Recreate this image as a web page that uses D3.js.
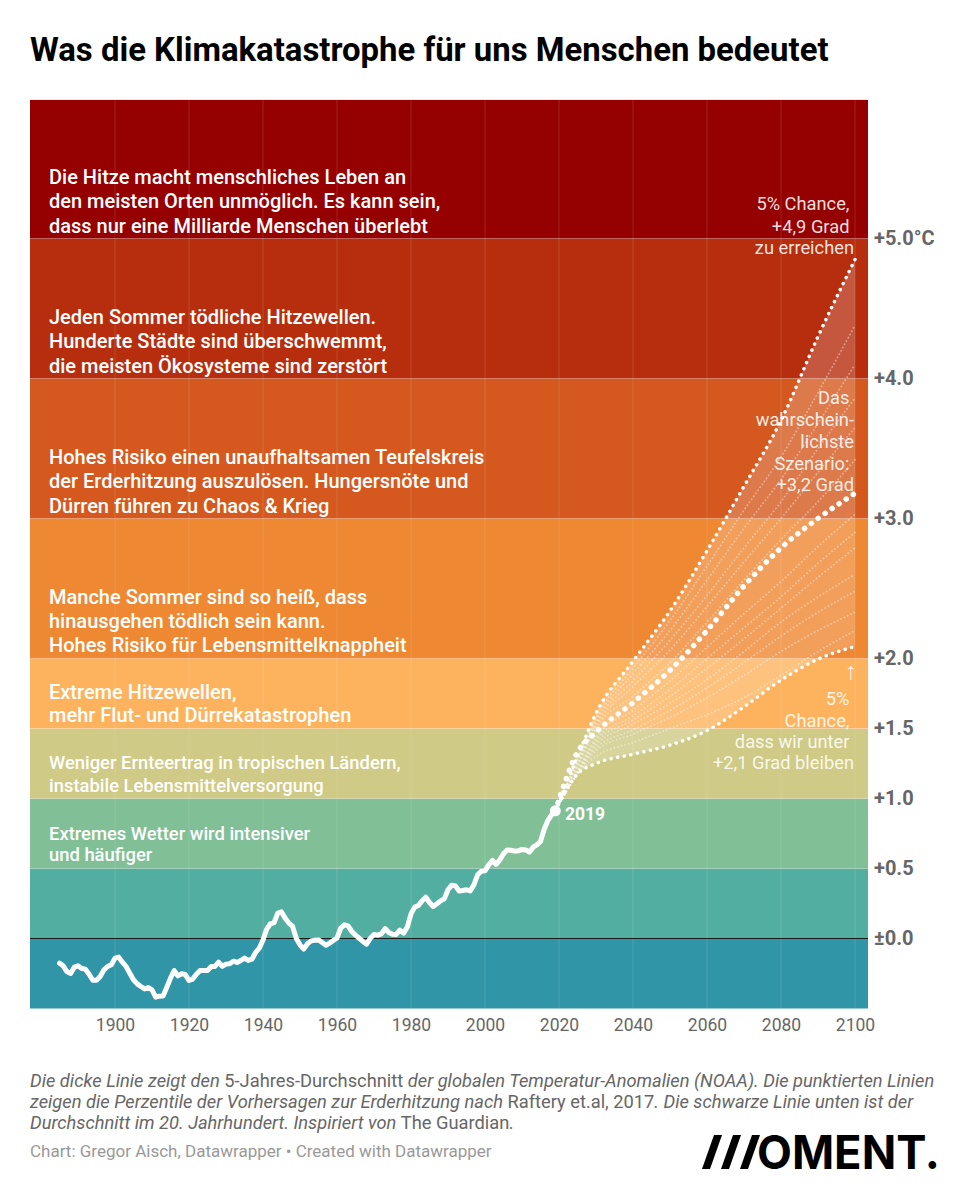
<!DOCTYPE html>
<meta charset="utf-8">
<title>Was die Klimakatastrophe für uns Menschen bedeutet</title>
<style>

    body {
        margin: 0;
        background: #fff;
        font-family: Roboto, sans-serif;
    }

    .band-text {
        fill: #fff;
        font-weight: 500;
    }

    .note {
        fill: #fff;
        fill-opacity: .88;
        font-size: 18.3px;
        text-anchor: end;
    }

</style>
<body>
<script src="https://cdn.jsdelivr.net/npm/d3@7"></script>
<script>

    var bandEdges = [-0.5, 0, 0.5, 1, 1.5, 2, 3, 4, 5, 5.99];
    var bandColors = ["#3096a7", "#52aea0", "#81bf97", "#cfca85", "#fdb35e", "#ee8832", "#d5591e", "#b72e0e", "#950000"];

    var xTicks = [1900, 1920, 1940, 1960, 1980, 2000, 2020, 2040, 2060, 2080, 2100];
    var yTicks = [0, 0.5, 1, 1.5, 2, 3, 4, 5];
    var yTickLabels = ["±0.0", "+0.5", "+1.0", "+1.5", "+2.0", "+3.0", "+4.0", "+5.0°C"];

    var firstYear = 1885;
    var anomaly = [-.176, -.195, -.236, -.25, -.205, -.195, -.214, -.219, -.255, -.298,
        -.298, -.271, -.224, -.2, -.188, -.14, -.133, -.169, -.2, -.248,
        -.295, -.324, -.343, -.36, -.35, -.367, -.419, -.412, -.41, -.348,
        -.283, -.229, -.267, -.252, -.257, -.3, -.29, -.255, -.229, -.229,
        -.229, -.2, -.2, -.169, -.198, -.183, -.181, -.162, -.171, -.157,
        -.14, -.157, -.148, -.1, -.069, -.01, .067, .105, .114, .181,
        .19, .145, .11, .086, 0, -.045, -.076, -.038, -.017, -.012,
        -.01, -.029, -.048, -.033, -.014, .002, .074, .098, .09, .05,
        .024, .002, -.021, -.04, .002, .029, .024, .033, .071, .043,
        .031, .029, .06, .038, .081, .176, .224, .236, .269, .295,
        .257, .229, .248, .269, .283, .348, .381, .376, .34, .343,
        .348, .34, .383, .455, .481, .483, .526, .557, .529, .562,
        .605, .633, .631, .624, .626, .636, .633, .617, .652, .669,
        .693, .78, .843, .883, .912];

    var projYears = [2019, 2025, 2030, 2040, 2050, 2060, 2070, 2080, 2090, 2100];
    var p95 = [.912, 1.3, 1.61, 1.98, 2.34, 2.77, 3.23, 3.7, 4.3, 4.85];
    var p50 = [.912, 1.33, 1.475, 1.685, 1.916, 2.2, 2.518, 2.79, 3.0, 3.18];
    var p5 = [.912, 1.175, 1.25, 1.316, 1.382, 1.485, 1.655, 1.846, 1.995, 2.085];

    var p90 = [.912, 1.28, 1.58, 1.93, 2.27, 2.66, 3.06, 3.44, 3.9, 4.38];
    var p85 = [.912, 1.27, 1.56, 1.89, 2.2, 2.56, 2.93, 3.28, 3.68, 4.1];
    var p80 = [.912, 1.25, 1.54, 1.84, 2.13, 2.45, 2.79, 3.12, 3.5, 3.86];
    var p75 = [.912, 1.24, 1.52, 1.8, 2.06, 2.37, 2.69, 3.0, 3.33, 3.65];
    var p65 = [.912, 1.22, 1.5, 1.73, 1.97, 2.26, 2.56, 2.85, 3.12, 3.42];
    var p45 = [.912, 1.2, 1.44, 1.63, 1.84, 2.08, 2.32, 2.55, 2.8, 3.03];
    var p40 = [.912, 1.19, 1.42, 1.59, 1.78, 2.0, 2.22, 2.44, 2.68, 2.9];
    var p35 = [.912, 1.19, 1.4, 1.56, 1.73, 1.93, 2.14, 2.36, 2.58, 2.79];
    var p30 = [.912, 1.18, 1.38, 1.53, 1.68, 1.85, 2.05, 2.26, 2.44, 2.6];
    var p25 = [.912, 1.18, 1.36, 1.49, 1.63, 1.79, 1.97, 2.16, 2.33, 2.48];
    var p20 = [.912, 1.17, 1.34, 1.46, 1.58, 1.72, 1.88, 2.05, 2.2, 2.33];
    var p10 = [.912, 1.17, 1.3, 1.4, 1.5, 1.6, 1.72, 1.88, 2.05, 2.2];

    var thinLines = [p90, p85, p80, p75, p65, p45, p40, p35, p30, p25, p20, p10];

    var bandTexts = [
        { size: 20, lines: [[184, "Die Hitze macht menschliches Leben an"], [208, "den meisten Orten unmöglich. Es kann sein,"], [233, "dass nur eine Milliarde Menschen überlebt"]] },
        { size: 20, lines: [[324, "Jeden Sommer tödliche Hitzewellen."], [348, "Hunderte Städte sind überschwemmt,"], [373, "die meisten Ökosysteme sind zerstört"]] },
        { size: 20, lines: [[464, "Hohes Risiko einen unaufhaltsamen Teufelskreis"], [488, "der Erderhitzung auszulösen. Hungersnöte und"], [513, "Dürren führen zu Chaos & Krieg"]] },
        { size: 20, lines: [[604, "Manche Sommer sind so heiß, dass"], [628, "hinausgehen tödlich sein kann."], [652, "Hohes Risiko für Lebensmittelknappheit"]] },
        { size: 20, lines: [[699, "Extreme Hitzewellen,"], [722, "mehr Flut- und Dürrekatastrophen"]] },
        { size: 18.4, lines: [[769, "Weniger Ernteertrag in tropischen Ländern,"], [792, "instabile Lebensmittelversorgung"]] },
        { size: 18.4, lines: [[840, "Extremes Wetter wird intensiver"], [861, "und häufiger"]] }
    ];

    var notes = [
        [210, "5% Chance, "], [233, "+4,9 Grad "], [254, "zu erreichen"],
        [404, "Das "], [426, "wahrschein-"], [448, "lichste"], [470, "Szenario: "], [491, "+3,2 Grad"],
        [705, "5% "], [727, "Chance, "], [748, "dass wir unter "], [769, "+2,1 Grad bleiben"]
    ];

    var w = 972,
        h = 1200;

    var svg = d3.select("body").append("svg")
        .attr("width", w)
        .attr("height", h)
        .style("display", "block");

    var x = d3.scaleLinear().domain([1900, 2100]).range([115, 855]);
    var y = d3.scaleLinear().domain([0, 5]).range([938.5, 238.5]);

    svg.append("text")
        .attr("x", 30).attr("y", 61)
        .style("font-size", "32.9px")
        .style("font-weight", 700)
        .style("fill", "#000")
        .text("Was die Klimakatastrophe für uns Menschen bedeutet");

    // background bands
    svg.selectAll("rect.band")
        .data(bandColors)
        .enter().append("rect")
        .attr("class", "band")
        .attr("x", 30)
        .attr("width", 838)
        .attr("y", function(d, i) { return y(bandEdges[i + 1]); })
        .attr("height", function(d, i) { return y(bandEdges[i]) - y(bandEdges[i + 1]); })
        .style("fill", function(d) { return d; });

    // light border on top of each band
    svg.selectAll("line.edge")
        .data(bandEdges.slice(2, 9))
        .enter().append("line")
        .attr("x1", 30).attr("x2", 868)
        .attr("y1", function(d) { return y(d); })
        .attr("y2", function(d) { return y(d); })
        .style("stroke", "#fff")
        .style("stroke-opacity", .15);

    svg.selectAll("line.grid")
        .data(xTicks)
        .enter().append("line")
        .attr("x1", function(d) { return x(d); })
        .attr("x2", function(d) { return x(d); })
        .attr("y1", y(bandEdges[9]))
        .attr("y2", y(bandEdges[0]))
        .style("stroke", "#fff")
        .style("stroke-opacity", .13);

    svg.append("line")
        .attr("x1", 30).attr("x2", 868)
        .attr("y1", y(0)).attr("y2", y(0))
        .style("stroke", "#1a1a1a")
        .style("stroke-width", 1.2);

    var projArea = d3.area()
        .x(function(d, i) { return x(projYears[i]); })
        .y0(function(d, i) { return y(p5[i]); })
        .y1(function(d) { return y(d); })
        .curve(d3.curveMonotoneX);

    svg.append("path")
        .attr("d", projArea(p95))
        .style("fill", "#fff")
        .style("fill-opacity", .2);

    var projLine = d3.line()
        .x(function(d, i) { return x(projYears[i]); })
        .y(function(d) { return y(d); })
        .curve(d3.curveMonotoneX);

    function dotted(values, width, dash, opacity) {
        svg.append("path")
            .attr("d", projLine(values))
            .style("fill", "none")
            .style("stroke", "#fff")
            .style("stroke-width", width)
            .style("stroke-linecap", "round")
            .style("stroke-dasharray", dash)
            .style("stroke-opacity", opacity);
    }

    thinLines.forEach(function(d) { dotted(d, 1.8, "0.1 3.6", .42); });
    dotted(p95, 3.5, "0.1 6.6", 1);
    dotted(p5, 3.5, "0.1 6.6", 1);
    dotted(p50, 5.5, "0.1 8.4", 1);

    var histLine = d3.line()
        .x(function(d, i) { return x(firstYear + i); })
        .y(function(d) { return y(d); });

    svg.append("path")
        .attr("d", histLine(anomaly))
        .style("fill", "none")
        .style("stroke", "#fff")
        .style("stroke-width", 5)
        .style("stroke-linejoin", "round")
        .style("stroke-linecap", "round");

    svg.append("circle")
        .attr("cx", x(2019))
        .attr("cy", y(anomaly[anomaly.length - 1]))
        .attr("r", 5.5)
        .style("fill", "#fff");

    svg.append("text")
        .attr("x", 565).attr("y", 820)
        .style("fill", "#fff")
        .style("font-size", "17.5px")
        .style("font-weight", 700)
        .text("2019");

    // band descriptions
    bandTexts.forEach(function(b) {
        svg.selectAll(null)
            .data(b.lines)
            .enter().append("text")
            .attr("class", "band-text")
            .attr("x", 49)
            .attr("y", function(d) { return d[0]; })
            .style("font-size", b.size + "px")
            .text(function(d) { return d[1]; });
    });

    svg.selectAll("text.note")
        .data(notes)
        .enter().append("text")
        .attr("class", "note")
        .attr("x", 854)
        .attr("y", function(d) { return d[0]; })
        .attr("xml:space", "preserve")
        .style("white-space", "pre")
        .text(function(d) { return d[1]; });

    svg.append("text")
        .attr("class", "note")
        .attr("x", 857).attr("y", 679)
        .style("font-size", "24px")
        .style("font-weight", 300)
        .text("↑");

    // axes
    var xAxis = d3.axisBottom(x)
        .tickValues(xTicks)
        .tickSize(0)
        .tickPadding(0)
        .tickFormat(d3.format("d"));

    var gx = svg.append("g")
        .attr("transform", "translate(0,1019)")
        .call(xAxis);
    gx.select(".domain").remove();
    gx.selectAll("text")
        .style("font-family", "Roboto, sans-serif")
        .style("font-size", "17.5px")
        .style("fill", "#666");

    var yAxis = d3.axisRight(y)
        .tickValues(yTicks)
        .tickSize(0)
        .tickPadding(0)
        .tickFormat(function(d) { return yTickLabels[yTicks.indexOf(d)]; });

    var gy = svg.append("g")
        .attr("transform", "translate(874,0)")
        .call(yAxis);
    gy.select(".domain").remove();
    gy.selectAll("text")
        .style("font-family", "Roboto, sans-serif")
        .style("font-size", "20px")
        .style("font-weight", 700)
        .style("fill", "#666");

    // footnote
    var footLines = [
        [1087, [["Die dicke Linie zeigt den ", true], ["5-Jahres-Durchschnitt", false], [" der globalen Temperatur-Anomalien (NOAA). Die punktierten Linien", true]]],
        [1108, [["zeigen die Perzentile der Vorhersagen zur Erderhitzung nach ", true], ["Raftery et.al, 2017", false], [". Die schwarze Linie unten ist der", true]]],
        [1129, [["Durchschnitt im 20. Jahrhundert. Inspiriert von ", true], ["The Guardian", false], [".", true]]]
    ];

    footLines.forEach(function(l) {
        var t = svg.append("text")
            .attr("x", 30).attr("y", l[0])
            .style("font-size", "18.3px")
            .style("fill", "#666");
        l[1].forEach(function(s) {
            t.append("tspan")
                .style("font-style", s[1] ? "italic" : "normal")
                .text(s[0]);
        });
    });

    svg.append("text")
        .attr("x", 30).attr("y", 1157)
        .style("font-size", "17px")
        .style("fill", "#999")
        .text("Chart: Gregor Aisch, Datawrapper • Created with Datawrapper");

    // logo
    [702, 721, 740].forEach(function(s) {
        svg.append("path")
            .attr("d", "M" + s + ",1169L" + (s + 12) + ",1135H" + (s + 20) + "L" + (s + 8) + ",1169Z")
            .style("fill", "#000");
    });

    svg.append("text")
        .attr("x", 757).attr("y", 1169)
        .attr("textLength", 183)
        .attr("lengthAdjust", "spacingAndGlyphs")
        .style("font-family", "Inter, sans-serif")
        .style("font-size", "47px")
        .style("font-weight", 700)
        .style("fill", "#000")
        .text("OMENT.");

</script>
